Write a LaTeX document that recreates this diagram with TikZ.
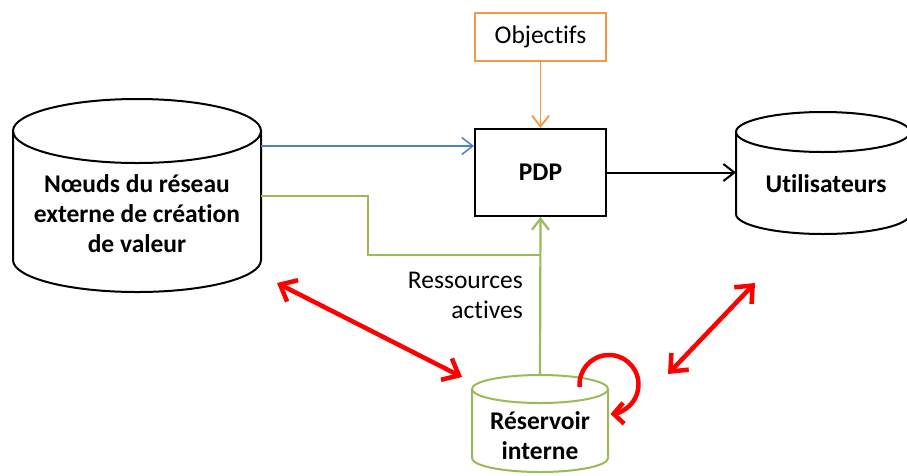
\documentclass[tikz,border=0pt]{standalone}
\usepackage{fontspec}
\setmainfont{Carlito}[RawFeature=-liga]
\usetikzlibrary{arrows.meta}
\definecolor{cblue}{HTML}{4F81BD}
\definecolor{cgreen}{HTML}{9BBB59}
\definecolor{corange}{HTML}{F79646}
\definecolor{cred}{HTML}{FF0000}
\begin{document}
\begin{tikzpicture}[x=1pt,y=-1pt,
  txt/.style={font=\fontsize{25.5}{30}\selectfont, align=center, inner sep=0pt},
  btxt/.style={font=\fontsize{25.5}{30}\selectfont\bfseries, align=center, inner sep=0pt},
  cyl/.style={line width=2pt, draw=black},
  gcyl/.style={line width=2pt, draw=cgreen},
  boxn/.style={draw, line width=2pt, minimum width=131pt, inner sep=0pt},
  barb/.style={-{Straight Barb[length=11pt,width=17pt]}},
  redarr/.style={draw=cred, line width=4.5pt, {Straight Barb[length=14pt,width=24pt]}-{Straight Barb[length=14pt,width=24pt]}},
  redloop/.style={draw=cred, line width=4.5pt, -{Straight Barb[length=10pt,width=21pt]}}
]
\clip (0,0) rectangle (907,475);
\fill[white] (0,0) rectangle (907,475);

% left cylinder
\draw[cyl] (13,131) -- (13,260) arc[start angle=180,end angle=0,x radius=124,y radius=32] -- (261,131);
\draw[cyl] (137,131) ellipse[x radius=124,y radius=32];
\node[btxt] (ext) at (137,214) {Nœuds du réseau\\externe de création\\de valeur};
\coordinate (extB) at (261,146);
\coordinate (extG) at (261,196);

% Utilisateurs cylinder
\draw[cyl] (736,132) -- (736,214) arc[start angle=180,end angle=0,x radius=87,y radius=20] -- (910,132);
\draw[cyl] (823,132) ellipse[x radius=87,y radius=20];
\node[btxt] (util) at (826,184) {Utilisateurs};
\coordinate (utilL) at (736,172.5);

% Reservoir cylinder
\draw[gcyl] (472,389) -- (472,458) arc[start angle=180,end angle=0,x radius=68,y radius=14] -- (608,389);
\draw[gcyl] (540,389) ellipse[x radius=68,y radius=14];
\node[btxt] (res) at (540,436) {Réservoir\\interne};
\coordinate (resT) at (540,375);

% boxes
\node[boxn, draw=black, minimum height=87pt] (pdp) at (540.5,172.5) {\fontsize{25.5}{30}\selectfont\bfseries PDP};
\node[boxn, draw=corange, minimum height=48pt] (obj) at (540.5,37) {\fontsize{25.5}{30}\selectfont Objectifs};

% connectors
\draw[barb, corange, line width=1.8pt] (obj) -- (pdp);
\draw[barb, cblue, line width=1.5pt] (extB) -- (extB -| pdp.west);
\draw[barb, black, line width=2pt] (pdp.east |- utilL) -- (utilL);
\coordinate (gj) at (540,255);
\draw[cgreen, line width=2.2pt] (extG) -- (368,196) -- (368,255) -- (gj);
\draw[barb, cgreen, line width=2.2pt] (resT) -- (pdp.south);

\node[txt, align=right, anchor=east] (ress) at (523,295) {Ressources\\actives};

% red arrows
\coordinate (ra1) at (277,283);
\coordinate (ra2) at (462,377);
\coordinate (rb1) at (755,283);
\coordinate (rb2) at (668,374);
\draw[redarr] (ra1) -- (ra2);
\draw[redarr] (rb1) -- (rb2);
\coordinate (lc) at (609,384.5);
\draw[redloop] ([shift={(175:29.5)}]lc) arc[start angle=175,end angle=447,radius=29.5];
\end{tikzpicture}
\end{document}
